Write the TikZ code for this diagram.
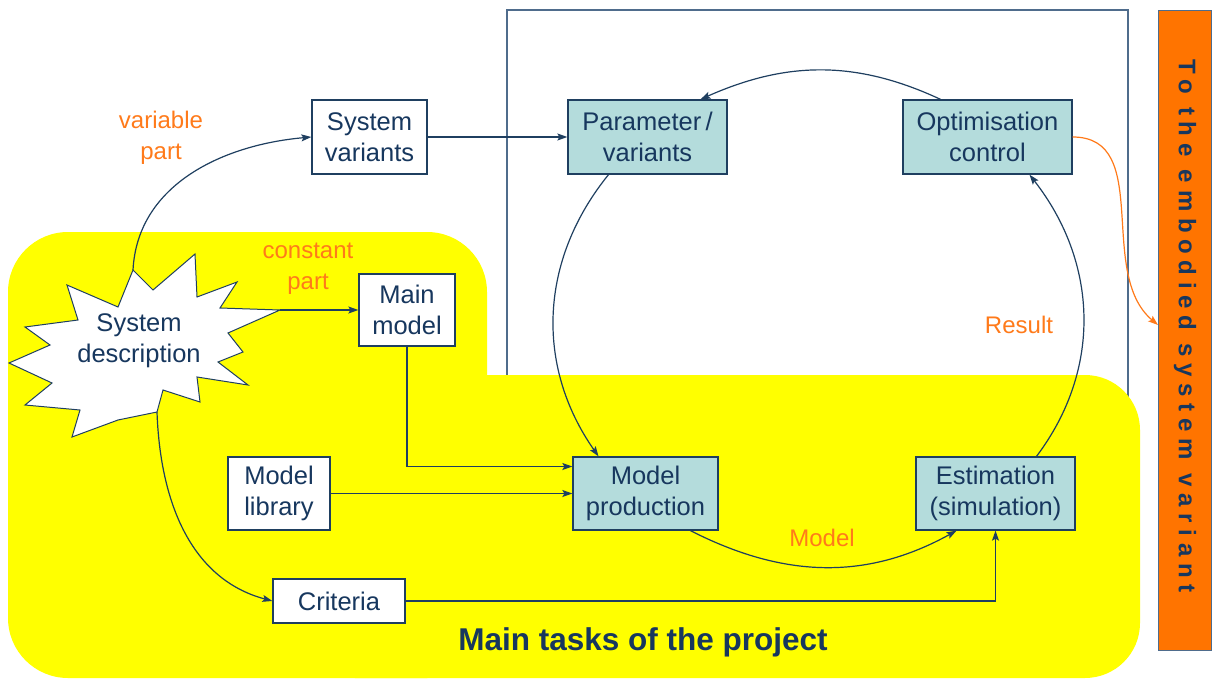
\documentclass[tikz,border=0pt]{standalone}
\usepackage{fontspec}
\setmainfont{Liberation Sans}
\newfontfamily\spacedfont[LetterSpace=28]{Liberation Sans}
\usetikzlibrary{arrows.meta}
\definecolor{navy}{HTML}{17375E}
\definecolor{linec}{HTML}{1F3F60}
\definecolor{tealfill}{HTML}{B4DCDC}
\definecolor{orangetxt}{HTML}{FF7A1A}
\definecolor{orangebox}{HTML}{FF7400}
\definecolor{framec}{HTML}{4F6C8C}
\definecolor{yel}{HTML}{FFFF00}
\begin{document}
\begin{tikzpicture}[x=1pt,y=1pt,
  box/.style={draw=linec, line width=1.3pt, fill=white, text=navy, align=center,
    font=\fontsize{25.5}{31}\selectfont, inner sep=0pt},
  tbox/.style={box, fill=tealfill},
  conn/.style={draw=linec, line width=1.2pt, -{Stealth[length=10pt,width=7pt,inset=2pt]}},
  oconn/.style={draw=orangetxt, line width=1.2pt, -{Stealth[length=10pt,width=7pt,inset=2pt]}},
  lbl/.style={text=orangetxt, align=center, font=\fontsize{24}{31}\selectfont},
]
\useasboundingbox (0,0) rectangle (1213,-680);
% frame of optimisation loop
\draw[framec, line width=1.2pt] (507,-10) rectangle (1128,-420);
% yellow area
\fill[yel, rounded corners=60pt] (8,-232) rectangle (487,-678);
\fill[yel, rounded corners=55pt] (300,-375) rectangle (1140,-678);
% orange bar
\filldraw[fill=orangebox, draw=framec, line width=1pt] (1158,-10) rectangle (1211,-650);
\node[rotate=-90, text=navy, font=\spacedfont\bfseries\fontsize{24}{28}\selectfont] (bar) at (1185,-326) {To the embodied system variant};
% star
\filldraw[fill=white, draw=linec, line width=1pt]
  (133,-270) -- (153,-290) -- (195,-254) -- (197,-297) -- (237,-282) -- (220,-308)
  -- (280,-310) -- (228,-333) -- (243,-352) -- (218,-362) -- (248,-385) -- (197,-377)
  -- (200,-402) -- (163,-390) -- (157,-412) -- (118,-420) -- (72,-437) -- (80,-410)
  -- (25,-405) -- (52,-383) -- (9,-363) -- (50,-345) -- (25,-327) -- (78,-320)
  -- (67,-285) -- (118,-307) -- cycle;
\coordinate (sdtop) at (133,-270);
\coordinate (sdright) at (280,-310);
\coordinate (sdbot) at (157,-412);
\node[text=navy, align=center, font=\fontsize{25.5}{31}\selectfont] (sd) at (139,-341) {System\\description};
% boxes
\node[box, minimum width=115pt, minimum height=74pt] (sv) at (369.5,-137) {System\\variants};
\node[tbox, minimum width=159pt, minimum height=74pt] (par) at (647.5,-137) {Parameter\,/\\variants};
\node[tbox, minimum width=169pt, minimum height=74pt] (opt) at (987.5,-137) {Optimisation\\control};
\node[box, minimum width=96pt, minimum height=72pt] (mm) at (407,-310) {Main\\model};
\node[box, minimum width=102pt, minimum height=73pt] (ml) at (279,-493.5) {Model\\library};
\node[tbox, minimum width=145pt, minimum height=73pt] (mp) at (645.5,-493.5) {Model\\production};
\node[tbox, minimum width=159pt, minimum height=73pt] (est) at (995.5,-493.5) {Estimation\\(simulation)};
\node[box, minimum width=132pt, minimum height=44pt] (cr) at (339,-601) {Criteria};
% labels
\node[lbl] (lvar) at (161,-138) {variable\\part};
\node[lbl] (lconst) at (308,-269) {constant\\part};
\node[lbl] (lres) at (1019,-325) {Result};
\node[lbl] (lmod) at (822,-538) {Model};
\node[text=navy, font=\bfseries\fontsize{31.5}{36}\selectfont] (title) at (643,-642) {Main tasks of the project};
% connectors
\draw[conn] (sdtop) to[out=87,in=185] (sv.west);
\draw[conn] (sdright) -- (mm.west);
\draw[conn] (sdbot) to[out=-88,in=165] (cr.west);
\draw[conn] (sv.east) -- (par.west);
\draw[conn] (mm.south) |- ([yshift=27pt]mp.west);
\draw[conn] (ml.east) -- (mp.west);
\draw[conn] (cr.east) -| (est.south);
\draw[conn] ([xshift=-39pt]par.south) to[out=231,in=125] ([xshift=-47pt]mp.north);
\draw[conn] ([xshift=45pt]mp.south) to[out=-27,in=209] ([xshift=-39pt]est.south);
\draw[conn] ([xshift=41pt]est.north) to[out=53,in=308] ([xshift=42pt]opt.south);
\draw[conn] ([xshift=-47pt]opt.north) to[out=155,in=24] ([xshift=53pt]par.north);
\draw[oconn] (opt.east) to[out=0,in=140] (1158,-325);
\end{tikzpicture}
\end{document}
